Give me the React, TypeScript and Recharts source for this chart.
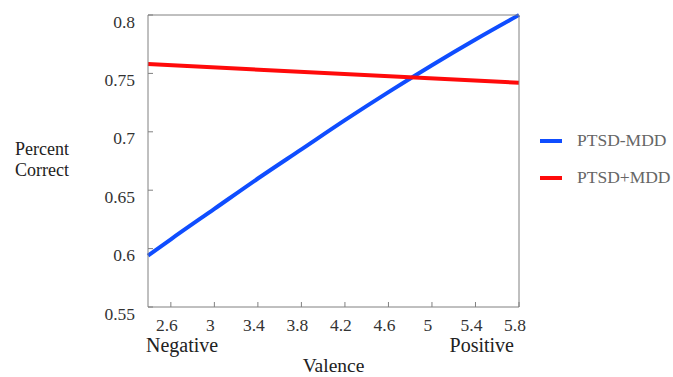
import { Legend, Line, LineChart, XAxis, YAxis } from 'recharts';

const valence = [2.39, 2.6, 3, 3.4, 3.8, 4.2, 4.6, 5, 5.4, 5.8];
const ptsdNoMdd = [0.594, 0.608, 0.634, 0.66, 0.685, 0.71, 0.734, 0.757, 0.779, 0.8];
const ptsdMddValence = [2.39, 5.8];
const ptsdMdd = [0.758, 0.742];
const xTicks = [2.6, 3, 3.4, 3.8, 4.2, 4.6, 5, 5.4, 5.8];
const yTicks = [0.55, 0.6, 0.65, 0.7, 0.75, 0.8];
const seriesOrder = ['PTSD-MDD', 'PTSD+MDD'];

const blueData = valence.map((v, i) => ({ x: v, y: ptsdNoMdd[i] }));
const redData = ptsdMddValence.map((v, i) => ({ x: v, y: ptsdMdd[i] }));

const FONT = '"Liberation Serif", "Times New Roman", serif';
const AXIS = '#808080';

const XTick = ({ x, y, payload }: any) => (
  <text x={x - 4} y={y + 12} textAnchor="middle" fontFamily={FONT} fontSize={17.5} fill="#333">
    {payload.value}
  </text>
);

const YTick = ({ x, y, payload }: any) => (
  <text x={x} y={y + 12.5} textAnchor="end" fontFamily={FONT} fontSize={17.5} fill="#333">
    {payload.value}
  </text>
);

const XLabel = ({ viewBox }: any) => {
  const { x, y, width } = viewBox;
  return (
    <g fontFamily={FONT} fontSize={20} fill="#222">
      <text x={x - 2} y={y + 45}>Negative</text>
      <text x={x + width - 5} y={y + 45} textAnchor="end">
        Positive
      </text>
      <text x={x + width / 2} y={y + 65} textAnchor="middle" fontSize={19.5}>
        Valence
      </text>
    </g>
  );
};

const YLabel = ({ viewBox }: any) => {
  const { x, y, height } = viewBox;
  const cy = y + height / 2;
  return (
    <g fontFamily={FONT} fontSize={18} fill="#222">
      <text x={x - 105} y={cy - 6} textAnchor="middle">
        Percent
      </text>
      <text x={x - 105} y={cy + 15} textAnchor="middle">
        Correct
      </text>
    </g>
  );
};

const renderLegend = ({ payload }: any) => {
  const items = [...(payload || [])].sort(
    (a: any, b: any) => seriesOrder.indexOf(a.value) - seriesOrder.indexOf(b.value),
  );
  return (
    <div>
      {items.map((entry: any) => (
        <div key={entry.value} style={{ display: 'flex', alignItems: 'center', height: 37 }}>
          <span style={{ width: 22, height: 4, background: entry.color, marginRight: 15 }} />
          <span style={{ fontFamily: FONT, fontSize: 17.5, color: '#666' }}>{entry.value}</span>
        </div>
      ))}
    </div>
  );
};

const App = () => {
  return (
    <div style={{ position: 'absolute', left: 0, top: 0, fontFamily: FONT }}>
      <LineChart width={673} height={377} margin={{ top: 14, right: 153, bottom: 69, left: 147 }}>
        <XAxis
          xAxisId="bottom"
          type="number"
          dataKey="x"
          domain={[2.39, 5.8]}
          ticks={xTicks}
          height={1}
          stroke={AXIS}
          tickSize={-5}
          tickMargin={17}
          tick={<XTick />}
          label={<XLabel />}
        />
        <XAxis
          xAxisId="top"
          orientation="top"
          type="number"
          dataKey="x"
          domain={[2.39, 5.8]}
          ticks={xTicks}
          height={1}
          stroke={AXIS}
          tickSize={-5}
          tickFormatter={() => ''}
        />
        <YAxis
          yAxisId="left"
          type="number"
          domain={[0.55, 0.8]}
          ticks={yTicks}
          width={1}
          stroke={AXIS}
          tickSize={-5}
          tickMargin={18}
          tick={<YTick />}
          label={<YLabel />}
        />
        <YAxis
          yAxisId="right"
          orientation="right"
          type="number"
          domain={[0.55, 0.8]}
          ticks={yTicks}
          width={1}
          stroke={AXIS}
          tickSize={-5}
          tickFormatter={() => ''}
        />
        <Legend
          layout="vertical"
          align="center"
          verticalAlign="middle"
          content={renderLegend}
          wrapperStyle={{ left: 540, top: 122, width: 133 }}
        />
        <Line
          xAxisId="bottom"
          yAxisId="left"
          data={blueData}
          dataKey="y"
          name="PTSD-MDD"
          type="monotone"
          stroke="#0f4dff"
          strokeWidth={4}
          dot={false}
          activeDot={false}
          isAnimationActive={false}
        />
        <Line
          xAxisId="bottom"
          yAxisId="left"
          data={redData}
          dataKey="y"
          name="PTSD+MDD"
          type="linear"
          stroke="#ff0a0a"
          strokeWidth={4}
          dot={false}
          activeDot={false}
          isAnimationActive={false}
        />
      </LineChart>
    </div>
  );
};

export default App;
